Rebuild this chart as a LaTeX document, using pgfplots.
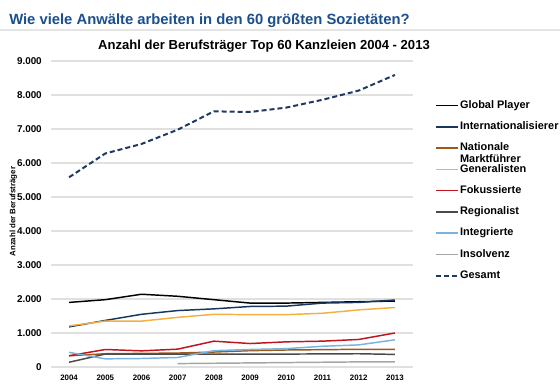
\documentclass[border=0pt]{standalone}
\usepackage{fontspec}
\setmainfont{Liberation Sans}
\usepackage{pgfplots}
\pgfplotsset{compat=1.18}
\definecolor{titleblue}{HTML}{1B4F8E}
\definecolor{cgp}{HTML}{000000}
\definecolor{cintl}{HTML}{17375E}
\definecolor{cnat}{HTML}{9C5A1A}
\definecolor{cgen}{HTML}{F4B042}
\definecolor{cfok}{HTML}{C0141C}
\definecolor{creg}{HTML}{4A4A4A}
\definecolor{cinteg}{HTML}{7AB3E0}
\definecolor{cinsol}{HTML}{A6A6A6}
\definecolor{cges}{HTML}{1F3864}
\definecolor{gridgray}{HTML}{E0E0E0}
\begin{document}
\begin{tikzpicture}[x=1pt,y=1pt]
\useasboundingbox (0,0) rectangle (420,288.75);
\fill[white] (0,0) rectangle (420,288.75);
\draw[gray!20, line width=1.5pt] (0,265.9) -- (420,265.9);
\node[anchor=base west, inner sep=0, font=\fontsize{11.1}{13}\selectfont\bfseries, text=titleblue] at (6.75,270) {Wie viele Anwälte arbeiten in den 60 größten Sozietäten?};
\node[anchor=base, inner sep=0, font=\fontsize{9.8}{11}\selectfont\bfseries] at (198,251.25) {Anzahl der Berufsträger Top 60 Kanzleien 2004 - 2013};
\node[rotate=90, inner sep=0, font=\fontsize{5.9}{7}\selectfont\bfseries] at (10.1,130) {Anzahl der Berufsträger};
\begin{axis}[
  at={(38.25pt,13.5pt)}, anchor=south west,
  scale only axis, width=271.5pt, height=229.5pt,
  xmin=2003.5, xmax=2013.5, ymin=0, ymax=9000,
  xtick={2004,2005,2006,2007,2008,2009,2010,2011,2012,2013},
  xticklabels={2004,2005,2006,2007,2008,2009,2010,2011,2012,2013},
  ytick={0,1000,2000,3000,4000,5000,6000,7000,8000,9000},
  /pgf/number format/1000 sep={.},
  /pgf/number format/assume math mode=true,
  axis line style={draw=none}, major tick length=0pt,
  ymajorgrids, grid style={color=gridgray, line width=0.9pt},
  yticklabel style={anchor=east, inner sep=0pt, xshift=-6.75pt, font=\fontsize{7.4}{8}\selectfont\bfseries},
  xticklabel style={anchor=north, inner sep=0pt, yshift=-6pt, font=\fontsize{5.9}{7}\selectfont\bfseries},
  no marks,
  every axis plot/.append style={line width=1.1pt},
  legend cell align=left,
  legend image code/.code={\draw[#1] (0pt,0pt) -- (16.3pt,0pt);},
  legend style={at={(1.0608,0.8693)}, anchor=north west, draw=none, fill=none,
    inner sep=0pt, outer sep=0pt, row sep=8.94pt, column sep=1pt,
    font=\fontsize{8.2}{8.4}\selectfont\bfseries,
    nodes={inner sep=0pt, text height=5.5pt, text depth=1.5pt}},
]
\addplot[color=cgp] coordinates {(2004,1900) (2005,1980) (2006,2140) (2007,2080) (2008,1980) (2009,1880) (2010,1880) (2011,1900) (2012,1920) (2013,1940)};
\addlegendentry{Global Player}
\addplot[color=cintl] coordinates {(2004,1180) (2005,1370) (2006,1550) (2007,1660) (2008,1710) (2009,1780) (2010,1790) (2011,1880) (2012,1900) (2013,1970)};
\addlegendentry{Internationalisierer}
\addplot[color=cnat] coordinates {(2004,330) (2005,390) (2006,400) (2007,410) (2008,440) (2009,480) (2010,500) (2011,510) (2012,520) (2013,520)};
\addlegendentry{\smash{\vtop{\hbox{Nationale}\hbox{Marktführer}}}}
\addplot[color=cgen] coordinates {(2004,1210) (2005,1350) (2006,1350) (2007,1460) (2008,1550) (2009,1540) (2010,1540) (2011,1580) (2012,1680) (2013,1750)};
\addlegendentry{Generalisten}
\addplot[color=cfok] coordinates {(2004,330) (2005,515) (2006,475) (2007,525) (2008,760) (2009,690) (2010,740) (2011,760) (2012,810) (2013,1000)};
\addlegendentry{Fokussierte}
\addplot[color=creg] coordinates {(2004,140) (2005,380) (2006,380) (2007,380) (2008,380) (2009,380) (2010,380) (2011,385) (2012,390) (2013,370)};
\addlegendentry{Regionalist}
\addplot[color=cinteg] coordinates {(2004,430) (2005,240) (2006,250) (2007,280) (2008,480) (2009,515) (2010,540) (2011,610) (2012,650) (2013,800)};
\addlegendentry{Integrierte}
\addplot[color=cinsol] coordinates {(2007,100) (2008,110) (2009,120) (2010,130) (2011,140) (2012,150) (2013,150)};
\addlegendentry{Insolvenz}
\addplot[color=cges, line width=1.5pt, dash pattern=on 3.75pt off 2.25pt] coordinates {(2004,5580) (2005,6280) (2006,6560) (2007,6980) (2008,7520) (2009,7500) (2010,7630) (2011,7860) (2012,8130) (2013,8590)};
\addlegendentry{Gesamt}
\end{axis}
\end{tikzpicture}
\end{document}
